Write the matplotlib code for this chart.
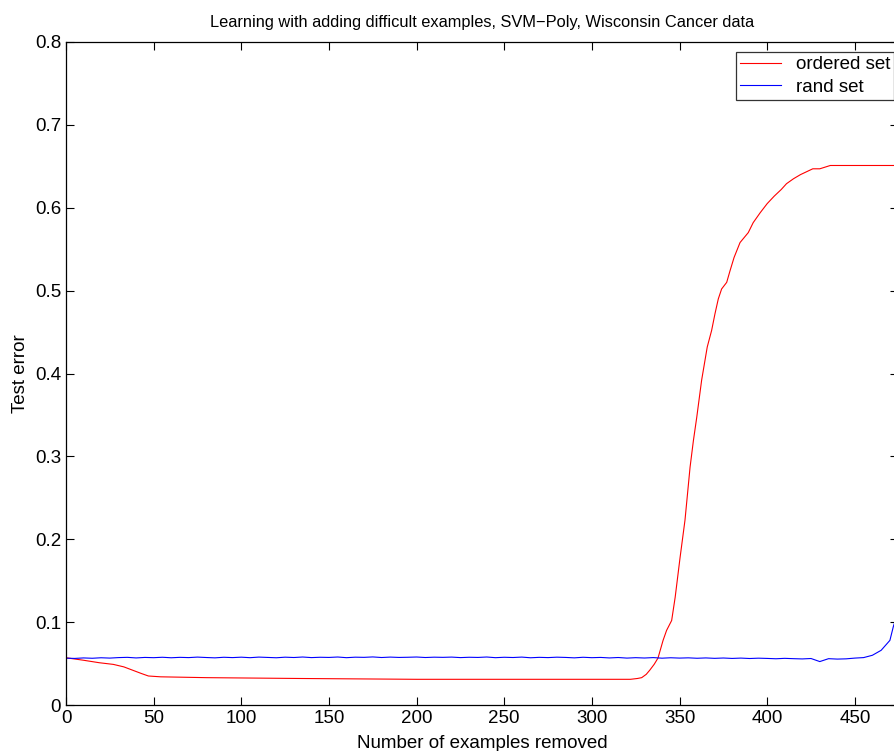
import numpy as np
import matplotlib
matplotlib.use("Agg")
import matplotlib.pyplot as plt

plt.rcParams['font.family'] = ['Liberation Sans', 'DejaVu Sans']

# ordered set
red_x = [0, 10, 19, 27, 33, 38, 43, 47, 54, 80, 133, 200, 260, 322, 326, 328.4, 331, 333,
         335.5, 337.7, 340.6, 342.6, 345.5, 347.5, 350.3, 353.1, 356, 357.9, 359.8, 362.6,
         365.8, 368.3, 370.2, 372.1, 374, 376.9, 378.8, 381.1, 384.5, 389.2, 392, 396, 400,
         404, 408, 411, 415, 419, 423, 426, 430, 433, 436, 476]
red_y = [0.057, 0.054, 0.051, 0.049, 0.046, 0.042, 0.038, 0.035, 0.034, 0.033, 0.032, 0.031,
         0.031, 0.031, 0.032, 0.033, 0.037, 0.042, 0.049, 0.0566, 0.078, 0.090, 0.102, 0.130,
         0.178, 0.223, 0.287, 0.319, 0.347, 0.392, 0.432, 0.452, 0.472, 0.490, 0.502, 0.510,
         0.524, 0.540, 0.558, 0.570, 0.582, 0.594, 0.605, 0.614, 0.622, 0.629, 0.635, 0.640,
         0.644, 0.647, 0.647, 0.649, 0.651, 0.651]

# rand set, every 5 examples, then the jump at the end
blue_x = list(range(0, 475, 5)) + [472, 474, 476]
blue_y = [0.0565, 0.0562, 0.0568, 0.0564, 0.0570, 0.0566, 0.0572, 0.0575, 0.0568, 0.0574,
          0.0571, 0.0576, 0.0570, 0.0575, 0.0572, 0.0578, 0.0573, 0.0569, 0.0576, 0.0572,
          0.0577, 0.0571, 0.0578, 0.0574, 0.0570, 0.0577, 0.0573, 0.0579, 0.0572, 0.0576,
          0.0574, 0.0579, 0.0571, 0.0577, 0.0575, 0.0580, 0.0573, 0.0578, 0.0574, 0.0576,
          0.0579, 0.0573, 0.0577, 0.0575, 0.0578, 0.0572, 0.0576, 0.0574, 0.0579, 0.0571,
          0.0576, 0.0573, 0.0578, 0.0570, 0.0575, 0.0572, 0.0577, 0.0574, 0.0569, 0.0576,
          0.0571, 0.0574, 0.0568, 0.0573, 0.0566, 0.0571, 0.0567, 0.0572, 0.0565, 0.0570,
          0.0566, 0.0569, 0.0564, 0.0568, 0.0563, 0.0567, 0.0562, 0.0566, 0.0561, 0.0565,
          0.0562, 0.0558, 0.0563, 0.0559, 0.0556, 0.0561, 0.0524, 0.0559, 0.0554, 0.0557,
          0.0566, 0.0572, 0.0600, 0.0660, 0.0780, 0.095, 0.108, 0.115]

fig = plt.figure(figsize=(8.95, 7.51), dpi=100)
ax = fig.add_axes([66 / 895, 46 / 751, 832 / 895, 663 / 751])

ax.plot(red_x, red_y, color='red', lw=0.8, label='ordered set')
ax.plot(blue_x, blue_y, color='blue', lw=0.8, label='rand set')

ax.set_xlim(0, 832 / 1.753)
ax.set_ylim(0, 0.8)
ax.set_xticks(np.arange(0, 451, 50))
ax.set_yticks(np.arange(0, 0.81, 0.1))
ax.set_yticklabels(['0', '0.1', '0.2', '0.3', '0.4', '0.5', '0.6', '0.7', '0.8'])
ax.tick_params(direction='in', top=True, right=True, length=6, width=0.8, labelsize=13.5)
for s in ax.spines.values():
    s.set_linewidth(0.9)

ax.set_title('Learning with adding difficult examples, SVM\u2212Poly, Wisconsin Cancer data',
             fontsize=11.8, pad=11)
ax.set_xlabel('Number of examples removed', fontsize=13.5, labelpad=6)
ax.set_ylabel('Test error', fontsize=13.5, labelpad=4)

leg = ax.legend(loc='upper right', bbox_to_anchor=(1.0, 0.99), fontsize=13.5, frameon=True,
                fancybox=False, borderpad=0.2, handlelength=2.2, labelspacing=0.3,
                borderaxespad=0.2)
leg.get_frame().set_edgecolor('black')
leg.get_frame().set_linewidth(0.9)

fig.savefig('out.png', dpi=100)
